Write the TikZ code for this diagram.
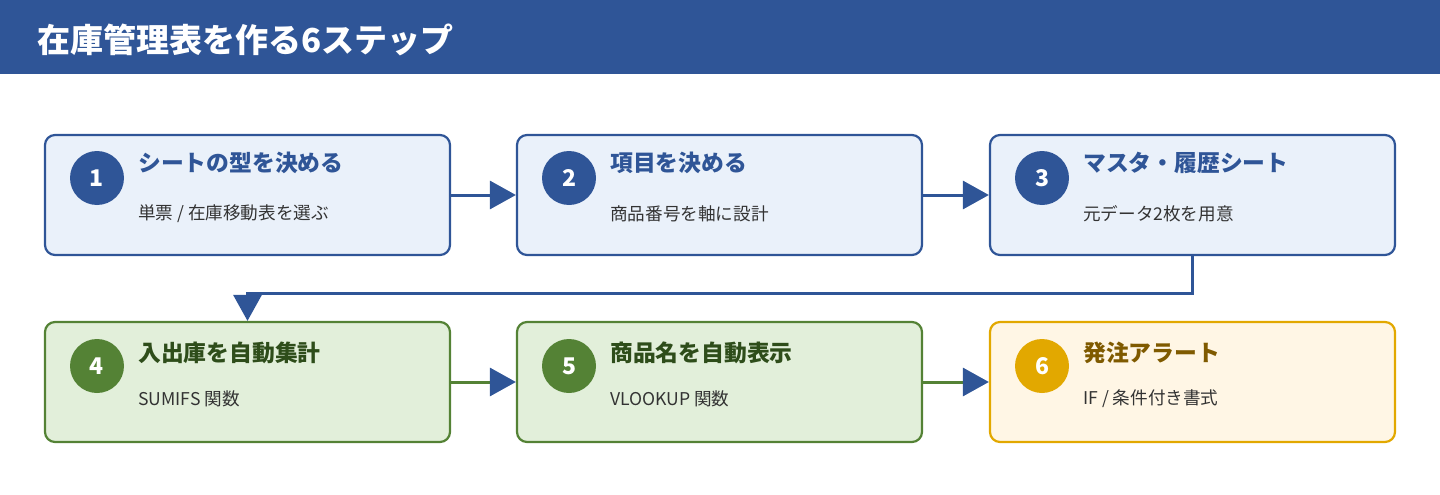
\documentclass[tikz,border=0pt]{standalone}
\usepackage{fontspec}
\setmainfont{Noto Sans CJK JP}
\usetikzlibrary{arrows.meta}
\definecolor{hdr}{HTML}{2F5597}
\definecolor{bfill}{HTML}{EAF1FA}
\definecolor{gline}{HTML}{548235}
\definecolor{gfill}{HTML}{E2EFDA}
\definecolor{gtext}{HTML}{2E4D1A}
\definecolor{yline}{HTML}{E2A800}
\definecolor{yfill}{HTML}{FFF6E5}
\definecolor{ytext}{HTML}{7F5A00}
\definecolor{subc}{HTML}{333333}
\tikzset{
  box/.style={draw, line width=2.2pt, rounded corners=10pt, minimum width=405pt, minimum height=120pt, inner sep=0pt},
  bluebox/.style={box, draw=hdr, fill=bfill},
  greenbox/.style={box, draw=gline, fill=gfill},
  yellowbox/.style={box, draw=yline, fill=yfill},
  num/.style={circle, minimum size=54pt, inner sep=0pt, text=white, font=\fontsize{23}{25}\selectfont\bfseries},
  ttl/.style={anchor=west, inner sep=0pt, font=\fontsize{22.8}{25}\selectfont\bfseries},
  sub/.style={anchor=west, inner sep=0pt, text=subc, font=\fontsize{17.6}{20}\selectfont},
  conn/.style={line width=3pt, -{Triangle[length=26pt,width=28pt,color=hdr,fill=hdr]}},
}
\begin{document}
\begin{tikzpicture}[x=1pt,y=-1pt]
\useasboundingbox (0,0) rectangle (1440,495);
\fill[hdr] (0,0) rectangle (1440,74);
\node[anchor=west, inner sep=0pt, text=white, font=\fontsize{33}{35}\selectfont\bfseries] (title) at (37,40) {在庫管理表を作る6ステップ};

% row 1
\node[bluebox] (b1) at (247.5,195) {};
\node[bluebox] (b2) at (719.5,195) {};
\node[bluebox] (b3) at (1192.5,195) {};
% row 2
\node[greenbox] (b4) at (247.5,382) {};
\node[greenbox] (b5) at (719.5,382) {};
\node[yellowbox] (b6) at (1192.5,382) {};

\node[num, fill=hdr] (c1) at (97,178) {1};
\node[num, fill=hdr] (c2) at (569,178) {2};
\node[num, fill=hdr] (c3) at (1042,178) {3};
\node[num, fill=gline] (c4) at (97,366) {4};
\node[num, fill=gline] (c5) at (569,366) {5};
\node[num, fill=yline] (c6) at (1042,366) {6};

\node[ttl, text=hdr] (t1) at (138,163) {シートの型を決める};
\node[sub] (s1) at (138,214) {単票 / 在庫移動表を選ぶ};
\node[ttl, text=hdr] (t2) at (610,163) {項目を決める};
\node[sub] (s2) at (610,214) {商品番号を軸に設計};
\node[ttl, text=hdr] (t3) at (1083,163) {マスタ・履歴シート};
\node[sub] (s3) at (1083,214) {元データ2枚を用意};
\node[ttl, text=gtext] (t4) at (138,353) {入出庫を自動集計};
\node[sub] (s4) at (138,399) {SUMIFS 関数};
\node[ttl, text=gtext] (t5) at (610,353) {商品名を自動表示};
\node[sub] (s5) at (610,399) {VLOOKUP 関数};
\node[ttl, text=ytext] (t6) at (1083,353) {発注アラート};
\node[sub] (s6) at (1083,399) {IF / 条件付き書式};

\draw[conn, draw=hdr] (b1.east) -- (b2.west);
\draw[conn, draw=hdr] (b2.east) -- (b3.west);
\draw[conn, draw=hdr] (b3.south) -- ++(0,37) -| (b4.north);
\draw[conn, draw=gline] (b4.east) -- (b5.west);
\draw[conn, draw=gline] (b5.east) -- (b6.west);
\end{tikzpicture}
\end{document}
